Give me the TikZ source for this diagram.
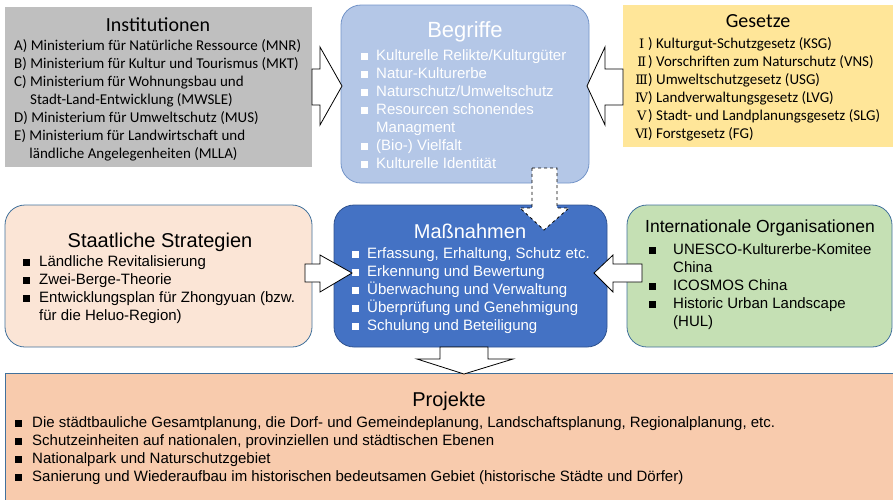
\documentclass[tikz,border=0pt]{standalone}
\usepackage{fontspec}
\setmainfont{Liberation Sans}
\newfontfamily\calfont{Carlito}
\newfontfamily\numfont{DejaVu Serif}
\usepackage{tikz}

\definecolor{instgray}{HTML}{BFBFBF}
\definecolor{gesetzgelb}{HTML}{FFE699}
\definecolor{begrblau}{HTML}{B4C7E7}
\definecolor{begrrand}{HTML}{7394C8}
\definecolor{massblau}{HTML}{4472C4}
\definecolor{massrand}{HTML}{2F528F}
\definecolor{stratrosa}{HTML}{FBE5D6}
\definecolor{intgruen}{HTML}{C5E0B4}
\definecolor{projorange}{HTML}{F8CBAD}
\definecolor{randblau}{HTML}{41719C}

\newcommand\sqb{\rule[0.5pt]{7pt}{7pt}}
\newcommand\rn[1]{\makebox[13pt][c]{\numfont\fontsize{13}{13}\selectfont #1})}

\begin{document}
\begin{tikzpicture}[x=1pt,y=-1pt,
	box/.style={inner sep=0pt, line width=0.8pt},
	blockarrow/.style={draw=black, fill=white, line width=0.8pt},
	title/.style={anchor=base, inner sep=0pt, font=\fontsize{20}{24}\selectfont},
	list/.style={anchor=base west, inner sep=0pt, font=\fontsize{15}{18}\selectfont}]
	\useasboundingbox (0,0) rectangle (893,499);

	% the six boxes
	\node[box, fill=instgray, minimum width=307pt, minimum height=160pt] (inst) at (158.5,87) {};
	\node[box, fill=gesetzgelb, minimum width=280pt, minimum height=142pt] (gesetz) at (763,76) {};
	\node[box, draw=begrrand, fill=begrblau, rounded corners=20pt, minimum width=248pt, minimum height=178pt] (begr) at (465,94) {};
	\node[box, draw=randblau, fill=stratrosa, rounded corners=20pt, minimum width=307pt, minimum height=142pt] (strat) at (158.5,276) {};
	\node[box, draw=massrand, fill=massblau, rounded corners=20pt, minimum width=273pt, minimum height=142pt] (mass) at (470.5,276) {};
	\node[box, draw=randblau, fill=intgruen, rounded corners=20pt, minimum width=265pt, minimum height=142pt] (intorg) at (759.5,276) {};
	\node[box, draw=randblau, fill=projorange, minimum width=890pt, minimum height=129pt] (proj) at (450,437.5) {};

	% Institutionen
	\node[title, font=\calfont\fontsize{20}{24}\selectfont] (inst-t) at (158,31) {Institutionen};
	\node[list, font=\calfont\fontsize{15}{18}\selectfont] (inst-l) at (14,50) {\begin{tabular}[t]{@{}l@{}}
		A) Ministerium für Natürliche Ressource (MNR)\\
		B) Ministerium für Kultur und Tourismus (MKT)\\
		C) Ministerium für Wohnungsbau und\\
		\phantom{C) }Stadt-Land-Entwicklung (MWSLE)\\
		D) Ministerium für Umweltschutz (MUS)\\
		E) Ministerium für Landwirtschaft und\\
		\phantom{E) }ländliche Angelegenheiten (MLLA)
	\end{tabular}};

	% Gesetze
	\node[title, font=\calfont\fontsize{20}{24}\selectfont] (gesetz-t) at (758,27) {Gesetze};
	\node[list, font=\calfont\fontsize{15}{18}\selectfont] (gesetz-l) at (635,48) {\begin{tabular}[t]{@{}l@{}}
		\rn{Ⅰ} Kulturgut-Schutzgesetz (KSG)\\
		\rn{Ⅱ} Vorschriften zum Naturschutz (VNS)\\
		\rn{Ⅲ} Umweltschutzgesetz (USG)\\
		\rn{Ⅳ} Landverwaltungsgesetz (LVG)\\
		\rn{Ⅴ} Stadt- und Landplanungsgesetz (SLG)\\
		\rn{Ⅵ} Forstgesetz (FG)
	\end{tabular}};

	% Begriffe
	\node[title, text=white, font=\fontsize{22}{26}\selectfont] (begr-t) at (465,37) {Begriffe};
	\node[list, text=white] (begr-l) at (361,60) {\begin{tabular}[t]{@{}l@{\hspace{8pt}}l@{}}
		\sqb & Kulturelle Relikte/Kulturgüter\\
		\sqb & Natur-Kulturerbe\\
		\sqb & Naturschutz/Umweltschutz\\
		\sqb & Resourcen schonendes\\
		     & Managment\\
		\sqb & (Bio-) Vielfalt\\
		\sqb & Kulturelle Identität
	\end{tabular}};

	% Staatliche Strategien
	\node[title] (strat-t) at (160,247) {Staatliche Strategien};
	\node[list] (strat-l) at (23,266) {\begin{tabular}[t]{@{}l@{\hspace{9pt}}l@{}}
		\sqb & Ländliche Revitalisierung\\
		\sqb & Zwei-Berge-Theorie\\
		\sqb & Entwicklungsplan für Zhongyuan (bzw.\\
		     & für die Heluo-Region)
	\end{tabular}};

	% Maßnahmen
	\node[title, text=white] (mass-t) at (470,238) {Maßnahmen};
	\node[list, text=white] (mass-l) at (352,258) {\begin{tabular}[t]{@{}l@{\hspace{8pt}}l@{}}
		\sqb & Erfassung, Erhaltung, Schutz etc.\\
		\sqb & Erkennung und Bewertung\\
		\sqb & Überwachung und Verwaltung\\
		\sqb & Überprüfung und Genehmigung\\
		\sqb & Schulung und Beteiligung
	\end{tabular}};

	% Internationale Organisationen
	\node[title, anchor=base west, font=\fontsize{17.5}{21}\selectfont] (intorg-t) at (645,232) {Internationale Organisationen};
	\node[list] (intorg-l) at (649,254) {\begin{tabular}[t]{@{}l@{\hspace{17pt}}l@{}}
		\sqb & UNESCO-Kulturerbe-Komitee\\
		     & China\\
		\sqb & ICOSMOS China\\
		\sqb & Historic Urban Landscape\\
		     & (HUL)
	\end{tabular}};

	% Projekte
	\node[title] (proj-t) at (449,406) {Projekte};
	\node[list] (proj-l) at (15,427) {\begin{tabular}[t]{@{}l@{\hspace{10pt}}l@{}}
		\sqb & Die städtbauliche Gesamtplanung, die Dorf- und Gemeindeplanung, Landschaftsplanung, Regionalplanung, etc.\\
		\sqb & Schutzeinheiten auf nationalen, provinziellen und städtischen Ebenen\\
		\sqb & Nationalpark und Naturschutzgebiet\\
		\sqb & Sanierung und Wiederaufbau im historischen bedeutsamen Gebiet (historische Städte und Dörfer)
	\end{tabular}};

	% block arrows
	\draw[blockarrow] (312,69) -- (320,69) -- (320,47) -- (342,86) -- (320,125) -- (320,105) -- (312,105) -- cycle;
	\draw[blockarrow] (623,69) -- (605,69) -- (605,47) -- (587,86) -- (605,125) -- (605,105) -- (623,105) -- cycle;
	\draw[blockarrow, dashed] (532,168) -- (557,168) -- (557,208) -- (569,208) -- (544,230) -- (520,208) -- (532,208) -- cycle;
	\draw[blockarrow] (305,264) -- (320,264) -- (320,255) -- (352,273) -- (320,292) -- (320,282) -- (305,282) -- cycle;
	\draw[blockarrow] (642,264) -- (613,264) -- (613,255) -- (594,273) -- (613,292) -- (613,282) -- (642,282) -- cycle;
	\draw[blockarrow] (440,347) -- (440,359) -- (417,359) -- (464,374) -- (513,359) -- (488,359) -- (488,347) -- cycle;
\end{tikzpicture}
\end{document}
